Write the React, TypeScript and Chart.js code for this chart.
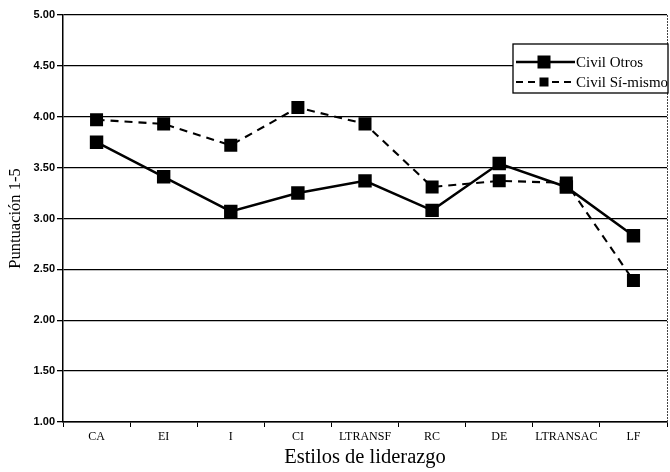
import React, { useEffect, useRef } from "react";
import { Chart, registerables } from "chart.js";

Chart.register(...registerables);

const categories = ["CA", "EI", "I", "CI", "LTRANSF", "RC", "DE", "LTRANSAC", "LF"];
const civilOtros = [3.75, 3.41, 3.07, 3.25, 3.37, 3.08, 3.54, 3.31, 2.83];
const civilSiMismo = [3.97, 3.93, 3.72, 4.09, 3.93, 3.31, 3.37, 3.35, 2.39];
const seriesLabels = ["Civil Otros", "Civil Sí-mismo"];
const yMin = 1;
const yMax = 5;
const yStep = 0.5;
const xTitle = "Estilos de liderazgo";
const yTitle = "Puntuación 1-5";

const SERIF = "'Liberation Serif', 'Times New Roman', serif";
const SANS = "'Liberation Sans', Arial, sans-serif";

const frameLegendPlugin = {
  id: "frameLegend",
  afterDraw(chart: any) {
    const ctx = chart.ctx as CanvasRenderingContext2D;
    const a = chart.chartArea;
    ctx.save();
    // right border (thin, dotted look)
    ctx.strokeStyle = "#444";
    ctx.lineWidth = 1;
    ctx.setLineDash([2, 1]);
    ctx.beginPath();
    ctx.moveTo(a.right + 0.5, a.top);
    ctx.lineTo(a.right + 0.5, a.bottom);
    ctx.stroke();
    ctx.setLineDash([]);

    // legend box
    const bx1 = a.right - 154;
    const bx2 = a.right + 1;
    const by1 = 44;
    const by2 = 93;
    ctx.fillStyle = "#fff";
    ctx.fillRect(bx1, by1, bx2 - bx1, by2 - by1);
    ctx.strokeStyle = "#000";
    ctx.lineWidth = 1.3;
    ctx.strokeRect(bx1, by1, bx2 - bx1, by2 - by1);

    const rows = [
      { y: 62, dash: [] as number[], lw: 2.4, size: 13 },
      { y: 82, dash: [7, 5], lw: 2, size: 9 },
    ];
    rows.forEach((r, i) => {
      const lx1 = bx1 + 3;
      const lx2 = bx1 + 62;
      ctx.strokeStyle = "#000";
      ctx.lineWidth = r.lw;
      ctx.setLineDash(r.dash);
      ctx.beginPath();
      ctx.moveTo(lx1, r.y);
      ctx.lineTo(lx2, r.y);
      ctx.stroke();
      ctx.setLineDash([]);
      ctx.fillStyle = "#000";
      const cx = bx1 + 31;
      ctx.fillRect(cx - r.size / 2, r.y - r.size / 2, r.size, r.size);
      ctx.font = `15px ${SERIF}`;
      ctx.textBaseline = "middle";
      ctx.textAlign = "left";
      ctx.fillText(seriesLabels[i], lx2 + 1, r.y + 1);
    });
    ctx.restore();
  },
};

export default function App() {
  const canvasRef = useRef<HTMLCanvasElement | null>(null);

  useEffect(() => {
    if (!canvasRef.current) return;
    const chart = new Chart(canvasRef.current, {
      type: "line",
      data: {
        labels: categories,
        datasets: [
          {
            label: seriesLabels[0],
            data: civilOtros,
            borderColor: "#000",
            backgroundColor: "#000",
            borderWidth: 2.5,
            pointStyle: "rect",
            pointRadius: 9.5,
            pointHoverRadius: 9.5,
            pointBackgroundColor: "#000",
            pointBorderWidth: 0,
            tension: 0,
          },
          {
            label: seriesLabels[1],
            data: civilSiMismo,
            borderColor: "#000",
            backgroundColor: "#000",
            borderWidth: 2.1,
            borderDash: [8, 6],
            pointStyle: "rect",
            pointRadius: 9.2,
            pointHoverRadius: 9.2,
            pointBackgroundColor: "#000",
            pointBorderWidth: 0,
            tension: 0,
          },
        ],
      },
      options: {
        responsive: false,
        animation: false,
        events: [],
        layout: { autoPadding: false, padding: { left: 0, right: 3, top: 15, bottom: 0 } },
        plugins: {
          legend: { display: false },
          tooltip: { enabled: false },
        },
        scales: {
          x: {
            type: "category",
            offset: true,
            grid: {
              display: true,
              offset: true,
              drawOnChartArea: false,
              drawTicks: true,
              tickLength: 5,
              color: "#000",
              lineWidth: 1,
            },
            border: { display: true, color: "#000", width: 1.5 },
            ticks: {
              color: "#000",
              padding: 3,
              maxRotation: 0,
              autoSkip: false,
              font: { family: SERIF, size: 12 },
            },
            title: {
              display: true,
              text: xTitle,
              color: "#000",
              font: { family: SERIF, size: 20.5 },
              padding: { top: 0, bottom: 2 },
            },
            afterFit(scale: any) {
              scale.height = 50;
              scale.paddingLeft = 0;
              scale.paddingRight = 0;
            },
          },
          y: {
            type: "linear",
            min: yMin,
            max: yMax,
            grid: {
              display: true,
              color: "#000",
              lineWidth: 1.3,
              drawTicks: true,
              tickLength: 6,
            },
            border: { display: true, color: "#000", width: 1.5 },
            ticks: {
              stepSize: yStep,
              color: "#000",
              padding: 2,
              font: { family: SANS, size: 11, weight: "bold" },
              callback: (v: any) => Number(v).toFixed(2),
            },
            title: {
              display: true,
              text: yTitle,
              color: "#000",
              font: { family: SERIF, size: 16.5 },
              padding: { top: 6, bottom: 0 },
            },
            afterFit(scale: any) {
              scale.width = 63;
              scale.paddingTop = 0;
              scale.paddingBottom = 0;
            },
          },
        },
      },
      plugins: [frameLegendPlugin],
    } as any);
    return () => chart.destroy();
  }, []);

  return (
    <div style={{ position: "fixed", left: 0, top: 0, width: 670, height: 472, background: "#fff" }}>
      <canvas ref={canvasRef} width={670} height={472} style={{ width: 670, height: 472, display: "block" }} />
    </div>
  );
}
